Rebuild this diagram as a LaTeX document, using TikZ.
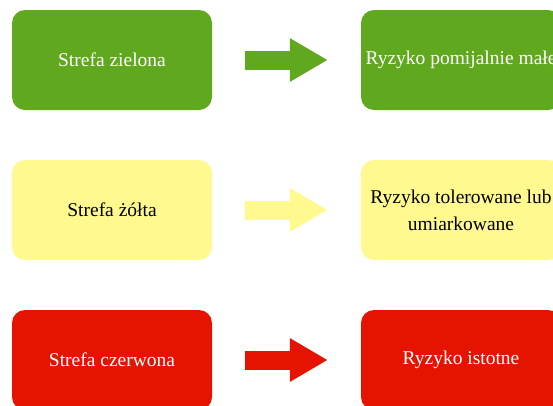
\documentclass[tikz,border=0pt]{standalone}
\usepackage{fontspec}
\setmainfont{Liberation Serif}
\usetikzlibrary{arrows.meta}
\definecolor{zielony}{RGB}{96,168,30}
\definecolor{zolty}{RGB}{255,249,143}
\definecolor{czerwony}{RGB}{228,20,0}

\begin{document}
\begin{tikzpicture}[x=1pt,y=-1pt,
  zone/.style={rounded corners=13pt,minimum width=200pt,minimum height=100pt,
    align=center,font=\fontsize{19.5}{27}\selectfont},
  bigarrow/.style={line width=19pt,-{Triangle[length=38pt,width=41pt]},
    shorten <=33pt,shorten >=33pt}]
\tikzstyle{every node}+=[inner sep=0pt]
\useasboundingbox (0,0) rectangle (553,405);
% strefy
\node [zone,fill=zielony,text=white] (zielona) at (112,60) {Strefa zielona};
\node [zone,fill=zolty,text=black] (zolta) at (112,210) {Strefa żółta};
\node [zone,fill=czerwony,text=white] (czerwona) at (112,360) {Strefa czerwona};
% ryzyko
\node [zone,fill=zielony,text=white] (rzmale) at (461,60) {Ryzyko pomijalnie małe};
\node [zone,fill=zolty,text=black] (rztol) at (461,210) {Ryzyko tolerowane lub\\umiarkowane};
\node [zone,fill=czerwony,text=white] (rzist) at (461,360) {Ryzyko istotne};
% strzalki
\draw [bigarrow,zielony] (zielona) -- (rzmale);
\draw [bigarrow,zolty] (zolta) -- (rztol);
\draw [bigarrow,czerwony] (czerwona) -- (rzist);
\end{tikzpicture}
\end{document}
